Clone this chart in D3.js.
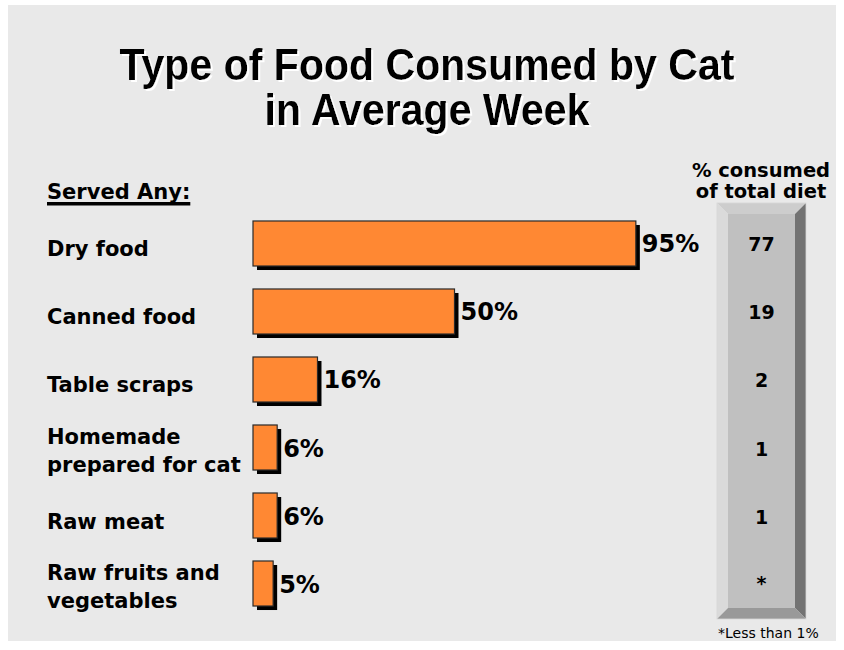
<!DOCTYPE html>
<html>
<head>
<meta charset="utf-8">
<script src="https://cdn.jsdelivr.net/npm/d3@7"></script>
<style>
  html, body { margin: 0; padding: 0; background: #ffffff; }
  svg { display: block; }
</style>
</head>
<body>
<div id="chart"></div>
<script>
// Survey data: share of owners who serve each food type, and its share of the total diet
const categories = [
  ["Dry food"],
  ["Canned food"],
  ["Table scraps"],
  ["Homemade", "prepared for cat"],
  ["Raw meat"],
  ["Raw fruits and", "vegetables"]
];
const servedAny = [95, 50, 16, 6, 6, 5];
const consumedShare = ["77", "19", "2", "1", "1", "*"];
const titleLines = ["Type of Food Consumed by Cat", "in Average Week"];
const leftHeader = "Served Any:";
const rightHeader = ["% consumed", "of total diet"];
const footnote = "*Less than 1%";

const W = 844, H = 650;
const svg = d3.select("#chart").append("svg")
  .attr("width", W).attr("height", H);

// White offset shadow behind the title
const defs = svg.append("defs");
const f = defs.append("filter").attr("id", "titleShadow")
  .attr("x", "-5%").attr("y", "-20%").attr("width", "110%").attr("height", "140%");
f.append("feOffset").attr("in", "SourceAlpha").attr("dx", 2).attr("dy", 2).attr("result", "off");
f.append("feFlood").attr("flood-color", "#ffffff").attr("result", "white");
f.append("feComposite").attr("in", "white").attr("in2", "off").attr("operator", "in").attr("result", "shadow");
const fm = f.append("feMerge");
fm.append("feMergeNode").attr("in", "shadow");
fm.append("feMergeNode").attr("in", "SourceGraphic");

// Background panel
svg.append("rect").attr("x", 0).attr("y", 0).attr("width", W).attr("height", H).attr("fill", "#ffffff");
svg.append("rect").attr("x", 8).attr("y", 5).attr("width", 828).attr("height", 636).attr("fill", "#e9e9e9");

// Title
const titleFont = "'Liberation Sans Narrow', 'Arial Narrow', 'Liberation Sans', sans-serif";
const titleY = [80, 125];
const titleW = [615, 325];
titleLines.forEach((t, i) => {
  svg.append("text")
    .attr("x", 427).attr("y", titleY[i])
    .attr("text-anchor", "middle")
    .attr("font-family", titleFont)
    .attr("font-weight", "bold")
    .attr("font-size", 44)
    .attr("textLength", titleW[i])
    .attr("lengthAdjust", "spacingAndGlyphs")
    .attr("fill", "#000")
    .attr("filter", "url(#titleShadow)")
    .text(t);
});

const labelFont = "'DejaVu Sans', Verdana, sans-serif";

// Scales
const idx = d3.range(categories.length);
const y = d3.scaleBand().domain(idx).range([198, 629]).paddingInner(0.338).paddingOuter(0.338);
const x = d3.scaleLinear().domain([0, 100]).range([253, 656]);

// Left header, underlined
const lh = svg.append("text")
  .attr("x", 47).attr("y", 199)
  .attr("font-family", labelFont).attr("font-weight", "bold").attr("font-size", 21)
  .attr("fill", "#000").text(leftHeader);
const lhw = lh.node().getComputedTextLength();
svg.append("rect").attr("x", 47).attr("y", 202).attr("width", lhw).attr("height", 3.5).attr("fill", "#000");

// Category labels
const rows = svg.append("g");
idx.forEach(i => {
  const cy = y(i) + y.bandwidth() / 2;
  const lines = categories[i];
  const t = rows.append("text")
    .attr("font-family", labelFont).attr("font-weight", "bold").attr("font-size", 21)
    .attr("fill", "#000");
  if (lines.length === 1) {
    t.append("tspan").attr("x", 47).attr("y", cy + 13).text(lines[0]);
  } else {
    t.append("tspan").attr("x", 47).attr("y", cy - 4).text(lines[0]);
    t.append("tspan").attr("x", 47).attr("y", cy + 24).text(lines[1]);
  }
});

// Bars with a black drop shadow
const bars = svg.append("g");
bars.selectAll("rect.shadow").data(servedAny).join("rect")
  .attr("class", "shadow")
  .attr("x", x(0) + 4).attr("y", (d, i) => y(i) + 4)
  .attr("width", d => x(d) - x(0)).attr("height", y.bandwidth())
  .attr("fill", "#000");
bars.selectAll("rect.bar").data(servedAny).join("rect")
  .attr("class", "bar")
  .attr("x", x(0)).attr("y", (d, i) => y(i))
  .attr("width", d => x(d) - x(0)).attr("height", y.bandwidth())
  .attr("fill", "#ff8833").attr("stroke", "#2a2a2a").attr("stroke-width", 1.2);

// Value labels
bars.selectAll("text.val").data(servedAny).join("text")
  .attr("class", "val")
  .attr("x", d => x(d) + 6).attr("y", (d, i) => y(i) + y.bandwidth() / 2 + 9)
  .attr("font-family", labelFont).attr("font-weight", "bold").attr("font-size", 24)
  .attr("fill", "#000")
  .text(d => d + "%");

// Bevelled column for share of total diet
const cx0 = 717, cx1 = 806, cy0 = 203, cy1 = 619, b = 11;
const col = svg.append("g");
const poly = (pts, fill) => col.append("polygon").attr("points", pts.map(p => p.join(",")).join(" ")).attr("fill", fill);
poly([[cx0, cy0], [cx1, cy0], [cx1 - b, cy0 + b], [cx0 + b, cy0 + b]], "#cdcdcd");
poly([[cx0, cy0], [cx0 + b, cy0 + b], [cx0 + b, cy1 - b], [cx0, cy1]], "#dadada");
poly([[cx1, cy0], [cx1, cy1], [cx1 - b, cy1 - b], [cx1 - b, cy0 + b]], "#737373");
poly([[cx0, cy1], [cx0 + b, cy1 - b], [cx1 - b, cy1 - b], [cx1, cy1]], "#999999");
col.append("rect").attr("x", cx0 + b).attr("y", cy0 + b).attr("width", cx1 - cx0 - 2 * b).attr("height", cy1 - cy0 - 2 * b).attr("fill", "#c0c0c0");
col.append("rect").attr("x", cx0).attr("y", cy0).attr("width", cx1 - cx0).attr("height", cy1 - cy0)
  .attr("fill", "none").attr("stroke", "#d6d6d6").attr("stroke-width", 0.8);

const colX = (cx0 + cx1) / 2;
col.selectAll("text.share").data(consumedShare).join("text")
  .attr("class", "share")
  .attr("x", colX).attr("y", (d, i) => y(i) + y.bandwidth() / 2 + (d === "*" ? 6 : 8))
  .attr("text-anchor", "middle")
  .attr("font-family", labelFont).attr("font-weight", "bold").attr("font-size", 19)
  .attr("fill", "#000")
  .text(d => d);

// Right header
rightHeader.forEach((t, i) => {
  svg.append("text")
    .attr("x", 761).attr("y", 177 + i * 21)
    .attr("text-anchor", "middle")
    .attr("font-family", labelFont).attr("font-weight", "bold").attr("font-size", 19.5)
    .attr("fill", "#000").text(t);
});

// Footnote
svg.append("text")
  .attr("x", 718).attr("y", 638)
  .attr("font-family", labelFont).attr("font-size", 14)
  .attr("fill", "#000").text(footnote);
</script>
</body>
</html>
